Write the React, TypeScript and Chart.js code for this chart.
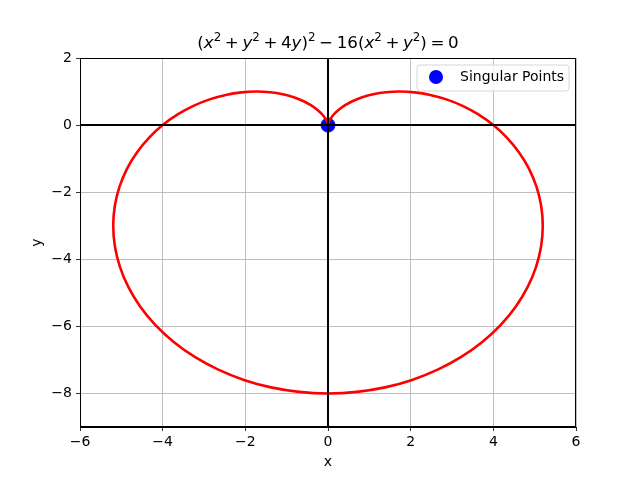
import React, { useEffect, useRef } from "react";
import { Chart, registerables } from "chart.js";

Chart.register(...registerables);

// Curve points (traced from the cusp, left lobe first, then right lobe)
const curveX = [
  0, -0.001, -0.011, -0.035, -0.083, -0.158, -0.268, -0.415, -0.602, -0.828,
  -1.095, -1.397, -1.732, -2.093, -2.473, -2.864, -3.255, -3.637, -4.0, -4.332,
  -4.623, -4.864, -5.044, -5.157, -5.196, -5.156, -5.034, -4.828, -4.541, -4.174,
  -3.732, -3.223, -2.654, -2.035, -1.379, -0.696, 0,
  0.696, 1.379, 2.035, 2.654, 3.223, 3.732, 4.174, 4.541, 4.828, 5.034,
  5.156, 5.196, 5.157, 5.044, 4.864, 4.623, 4.332, 4.0, 3.637, 3.255,
  2.864, 2.473, 2.093, 1.732, 1.397, 1.095, 0.828, 0.602, 0.415, 0.268,
  0.158, 0.083, 0.035, 0.011, 0.001, 0,
];
const curveY = [
  0, 0.015, 0.06, 0.132, 0.227, 0.34, 0.464, 0.593, 0.717, 0.828,
  0.919, 0.978, 1.0, 0.976, 0.9, 0.767, 0.574, 0.318, 0, -0.379,
  -0.815, -1.303, -1.836, -2.405, -3.0, -3.61, -4.224, -4.828, -5.412, -5.961,
  -6.464, -6.911, -7.291, -7.596, -7.819, -7.954, -8.0,
  -7.954, -7.819, -7.596, -7.291, -6.911, -6.464, -5.961, -5.412, -4.828, -4.224,
  -3.61, -3.0, -2.405, -1.836, -1.303, -0.815, -0.379, 0, 0.318, 0.574,
  0.767, 0.9, 0.976, 1.0, 0.978, 0.919, 0.828, 0.717, 0.593, 0.464,
  0.34, 0.227, 0.132, 0.06, 0.015, 0,
];
const singularX = [0];
const singularY = [0];
const xTicks = [-6, -4, -2, 0, 2, 4, 6];
const yTicks = [-8, -6, -4, -2, 0, 2];
const legendLabel = "Singular Points";
const xLabel = "x";
const yLabel = "y";

const FONT = "DejaVu Sans";

const fmt = (v: number) => (v < 0 ? "\u2212" + Math.abs(v) : String(v));

const overlay = {
  id: "overlay",
  afterDatasetsDraw(chart: any) {
    const { ctx, chartArea: a, scales } = chart;
    const xs = scales.x;
    const ys = scales.y;
    ctx.save();
    // black zero lines
    ctx.strokeStyle = "#000";
    ctx.lineWidth = 2;
    const y0 = ys.getPixelForValue(0);
    const x0 = xs.getPixelForValue(0);
    ctx.beginPath();
    ctx.moveTo(a.left, y0);
    ctx.lineTo(a.right, y0);
    ctx.moveTo(x0, a.top);
    ctx.lineTo(x0, a.bottom);
    ctx.stroke();
    // frame
    ctx.lineWidth = 1;
    ctx.strokeRect(Math.round(a.left) + 0.5, Math.round(a.top) + 0.5, Math.round(a.right - a.left) - 1, Math.round(a.bottom - a.top) - 1);

    // legend
    const lx = 417, ly = 65, lw = 152, lh = 26, r = 3;
    ctx.fillStyle = "rgba(255,255,255,0.8)";
    ctx.strokeStyle = "#d6d6d6";
    ctx.lineWidth = 1;
    ctx.beginPath();
    ctx.moveTo(lx + r, ly);
    ctx.lineTo(lx + lw - r, ly);
    ctx.quadraticCurveTo(lx + lw, ly, lx + lw, ly + r);
    ctx.lineTo(lx + lw, ly + lh - r);
    ctx.quadraticCurveTo(lx + lw, ly + lh, lx + lw - r, ly + lh);
    ctx.lineTo(lx + r, ly + lh);
    ctx.quadraticCurveTo(lx, ly + lh, lx, ly + lh - r);
    ctx.lineTo(lx, ly + r);
    ctx.quadraticCurveTo(lx, ly, lx + r, ly);
    ctx.closePath();
    ctx.fill();
    ctx.stroke();
    ctx.fillStyle = "#0000ff";
    ctx.beginPath();
    ctx.arc(436, 77, 7, 0, Math.PI * 2);
    ctx.fill();
    ctx.fillStyle = "#000";
    ctx.font = `14px "${FONT}"`;
    ctx.textBaseline = "middle";
    ctx.textAlign = "left";
    ctx.fillText(legendLabel, 460, 77);

    // axis labels
    ctx.textAlign = "center";
    ctx.fillText(xLabel, (a.left + a.right) / 2, 462);
    ctx.save();
    ctx.translate(37, (a.top + a.bottom) / 2);
    ctx.rotate(-Math.PI / 2);
    ctx.fillText(yLabel, 0, 0);
    ctx.restore();

    // title with math
    const big = 16.7, small = 11.8, gap = 3.6;
    type Piece = { t: string; it?: boolean; sup?: boolean; g?: number };
    const pieces: Piece[] = [
      { t: "(" }, { t: "x", it: true }, { t: "2", sup: true }, { t: "+", g: gap },
      { t: "y", it: true }, { t: "2", sup: true }, { t: "+", g: gap }, { t: "4" }, { t: "y", it: true },
      { t: ")" }, { t: "2", sup: true }, { t: "\u2212", g: gap }, { t: "16(" }, { t: "x", it: true },
      { t: "2", sup: true }, { t: "+", g: gap }, { t: "y", it: true }, { t: "2", sup: true },
      { t: ")" }, { t: "=", g: gap }, { t: "0" },
    ];
    const fontFor = (p: Piece) => `${p.it ? "oblique " : ""}${p.sup ? small : big}px "${FONT}"`;
    let total = 0;
    for (const p of pieces) {
      ctx.font = fontFor(p);
      total += ctx.measureText(p.t).width + 2 * (p.g || 0);
    }
    let x = (a.left + a.right) / 2 - total / 2;
    const base = 48;
    ctx.textAlign = "left";
    ctx.textBaseline = "alphabetic";
    for (const p of pieces) {
      ctx.font = fontFor(p);
      x += p.g || 0;
      ctx.fillText(p.t, x, p.sup ? base - 7 : base);
      x += ctx.measureText(p.t).width + (p.g || 0);
    }
    ctx.restore();
  },
};

export default function App() {
  const ref = useRef<HTMLCanvasElement | null>(null);
  useEffect(() => {
    if (!ref.current) return;
    const curve = curveX.map((x, i) => ({ x, y: curveY[i] }));
    const pts = singularX.map((x, i) => ({ x, y: singularY[i] }));
    const chart = new Chart(ref.current, {
      type: "scatter",
      data: {
        datasets: [
          {
            label: "curve",
            data: curve,
            showLine: true,
            borderColor: "#ff0000",
            borderWidth: 2.6,
            pointRadius: 0,
            tension: 0.2,
            fill: false,
            order: 1,
          } as any,
          {
            label: legendLabel,
            data: pts,
            backgroundColor: "#0000ff",
            borderColor: "#0000ff",
            pointRadius: 7,
            pointHoverRadius: 7,
            order: 2,
          },
        ],
      },
      options: {
        animation: false,
        responsive: false,
        maintainAspectRatio: false,
        layout: { padding: { left: 0, top: 58, right: 64, bottom: 0 } },
        plugins: { legend: { display: false }, title: { display: false }, tooltip: { enabled: false } },
        scales: {
          x: {
            type: "linear",
            min: -6,
            max: 6,
            afterFit: (s: any) => { s.height = 53; },
            afterBuildTicks: (s: any) => { s.ticks = xTicks.map((v) => ({ value: v })); },
            grid: { color: "#b0b0b0", lineWidth: 0.8, tickLength: 4, tickColor: "#000", drawTicks: true },
            border: { display: true, color: "#000", width: 1 },
            ticks: {
              padding: 3,
              color: "#000",
              font: { family: FONT, size: 14 },
              maxRotation: 0,
              callback: (v: any) => fmt(Number(v)),
            },
          },
          y: {
            type: "linear",
            min: -9,
            max: 2,
            afterFit: (s: any) => { s.width = 80; },
            afterBuildTicks: (s: any) => { s.ticks = yTicks.map((v) => ({ value: v })); },
            grid: { color: "#b0b0b0", lineWidth: 0.8, tickLength: 4, tickColor: "#000", drawTicks: true },
            border: { display: true, color: "#000", width: 1 },
            ticks: {
              padding: 4,
              color: "#000",
              font: { family: FONT, size: 14 },
              callback: (v: any) => fmt(Number(v)),
            },
          },
        },
      },
      plugins: [overlay],
    });
    return () => chart.destroy();
  }, []);
  return (
    <div style={{ position: "fixed", left: 0, top: 0, width: 640, height: 480, background: "#fff" }}>
      <canvas ref={ref} width={640} height={480} style={{ width: 640, height: 480 }} />
    </div>
  );
}
